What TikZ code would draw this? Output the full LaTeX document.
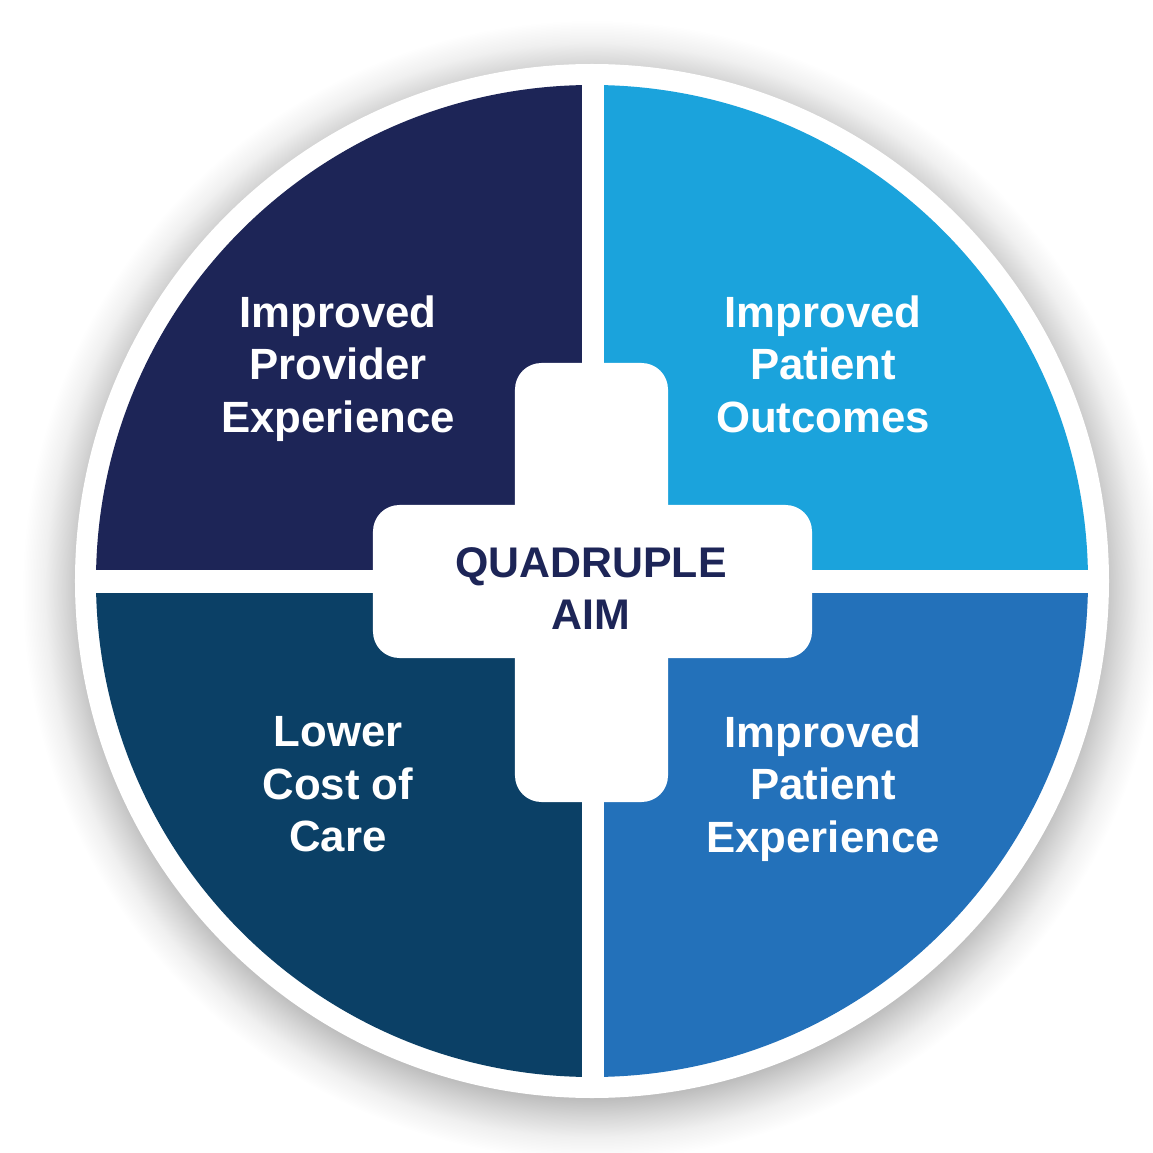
\documentclass[tikz,border=0pt]{standalone}
\usepackage{fontspec}
\setmainfont{Liberation Sans}
\usepackage{tikz}
\usetikzlibrary{positioning, backgrounds, calc}
\definecolor{provnavy}{HTML}{1D2557}
\definecolor{outcblue}{HTML}{1BA3DC}
\definecolor{costteal}{HTML}{0B4066}
\definecolor{patblue}{HTML}{2371BA}
\pgfdeclareradialshading{halo}{\pgfpoint{0bp}{0bp}}{color(0bp)=(black!26); color(22.3bp)=(black!26); color(23.1bp)=(black!16); color(24bp)=(black!6); color(25bp)=(white); color(50bp)=(white)}
\tikzset{
    aimtext/.style={align=center, inner sep=0pt, anchor=north, text=white, font=\fontsize{24.9}{30}\selectfont\bfseries},
    crossbar/.style={fill=white, rounded corners=15},
}

\begin{document}
\begin{tikzpicture}[x=0.02cm, y=0.02cm,
  quad/.style={fill=#1},
  centertext/.style={align=center, inner sep=0pt, anchor=north, text=provnavy, font=\fontsize{24.4}{29.5}\selectfont\bfseries}
]
\useasboundingbox[fill=white] (-592,-572) rectangle (561,581);

% Shadow and white rim
\shade[shading=halo] (0,-9) circle (570);
\fill[white] (0,0) circle (517);

% Four quadrants
\begin{scope}
\clip (0,0) circle (496);
\fill[quad=provnavy] (-600,11) rectangle (-10,600);
\fill[quad=outcblue] (12,11) rectangle (600,600);
\fill[quad=costteal] (-600,-12) rectangle (-10,-600);
\fill[quad=patblue] (12,-12) rectangle (600,-600);
\end{scope}

% Centre cross
\fill[crossbar] (-77,-221) rectangle (76,218);
\fill[crossbar] (-219,-77) rectangle (220,76);

% Labels
\node[aimtext] (provider) at (-254,286) {Improved\\Provider\\Experience};
\node[aimtext] (outcomes) at (231,286) {Improved\\Patient\\Outcomes};
\node[aimtext] (cost) at (-254,-135) {Lower\\Cost of\\Care};
\node[aimtext] (patient) at (231,-134) {Improved\\Patient\\Experience};
\node[centertext] (aim) at (-1,34) {QUADRUPLE\\AIM};
\end{tikzpicture}
\end{document}
